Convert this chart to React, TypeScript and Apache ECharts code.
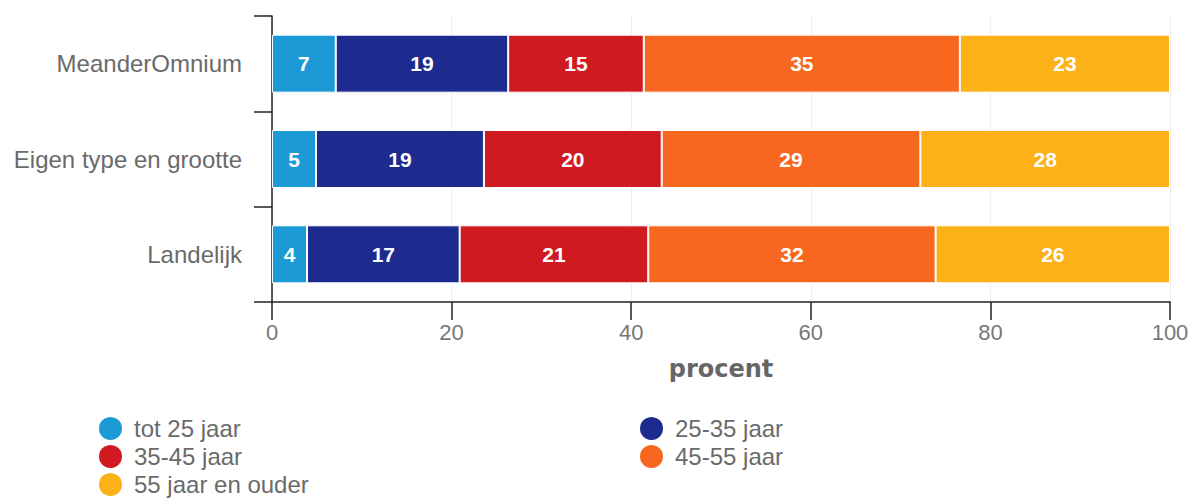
import React, { useEffect, useRef } from "react";
import * as echarts from "echarts";

const categories = ["MeanderOmnium", "Eigen type en grootte", "Landelijk"];
const seriesNames = ["tot 25 jaar", "25-35 jaar", "35-45 jaar", "45-55 jaar", "55 jaar en ouder"];
const tot25 = [7.1, 4.9, 3.9];
const j25_35 = [19.2, 18.7, 17.0];
const j35_45 = [15.1, 19.8, 21.0];
const j45_55 = [35.2, 28.8, 32.0];
const j55plus = [23.4, 27.8, 26.1];
const xTicks = { min: 0, max: 100, interval: 20 };
const colors = ["#1b9ad6", "#1d2a8e", "#d01a21", "#f7671f", "#fcb118"];

export default function App() {
  const ref = useRef<HTMLDivElement>(null);
  useEffect(() => {
    if (!ref.current) return;
    const chart = echarts.init(ref.current, null, { renderer: "svg" });
    const values = [tot25, j25_35, j35_45, j45_55, j55plus];
    const font = "'Liberation Sans', Arial, sans-serif";
    const legendCommon = {
      orient: "vertical",
      top: 415,
      height: 120,
      icon: "circle",
      itemWidth: 25,
      itemHeight: 25,
      itemGap: 1,
      padding: 0,
      textStyle: { fontSize: 24, lineHeight: 24, color: "#6a6a6a", fontFamily: font, padding: [0, 0, 0, 6] },
    };
    chart.setOption({
      animation: false,
      textStyle: { fontFamily: font },
      grid: { left: 272, right: 28, top: 16, bottom: 198, containLabel: false },
      legend: [
        { ...legendCommon, data: [seriesNames[0], seriesNames[2], seriesNames[4]], left: 97 },
        { ...legendCommon, data: [seriesNames[1], seriesNames[3]], left: 638 },
      ],
      xAxis: {
        type: "value",
        min: xTicks.min,
        max: xTicks.max,
        interval: xTicks.interval,
        name: "procent",
        nameLocation: "middle",
        nameGap: 55,
        nameTextStyle: { fontSize: 24, fontWeight: "bold", color: "#666", fontFamily: "'DejaVu Sans', sans-serif" },
        axisLine: { show: true, lineStyle: { color: "#222", width: 1.5 } },
        axisTick: { show: true, length: 18, lineStyle: { color: "#222", width: 1.5 } },
        axisLabel: { fontSize: 22, color: "#777", margin: 19, fontFamily: font },
        splitLine: { show: true, lineStyle: { color: "#eee", width: 1 } },
      },
      yAxis: {
        type: "category",
        data: categories,
        inverse: true,
        axisLine: { show: true, lineStyle: { color: "#222", width: 1.5 } },
        axisTick: { show: true, length: 18, lineStyle: { color: "#222", width: 1.5 } },
        axisLabel: { fontSize: 24, color: "#6a6a6a", margin: 30, fontFamily: font },
        splitLine: { show: false },
      },
      series: seriesNames.map((name, i) => ({
        name,
        type: "bar",
        stack: "total",
        barWidth: 58,
        data: values[i],
        itemStyle: { color: colors[i], borderColor: "#fff", borderWidth: 1 },
        label: {
          show: true,
          position: "inside",
          color: "#fff",
          fontWeight: "bold",
          fontSize: 21,
          fontFamily: font,
          formatter: (p: any) => String(Math.round(p.value)),
        },
      })),
    });
    return () => chart.dispose();
  }, []);
  return <div ref={ref} style={{ width: 1198, height: 500, position: "absolute", left: 0, top: 0 }} />;
}
